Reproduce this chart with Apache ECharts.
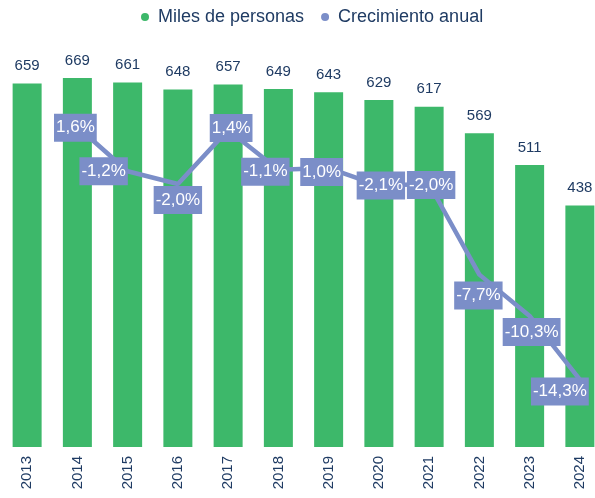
<!DOCTYPE html>
<html>
<head>
<meta charset="utf-8">
<script src="https://cdn.jsdelivr.net/npm/echarts@6/dist/echarts.min.js"></script>
<style>
html,body{margin:0;padding:0;background:#fff;}
#chart{width:595px;height:498px;}
</style>
</head>
<body>
<div id="chart"></div>
<script>
// datos
const years = ['2013','2014','2015','2016','2017','2018','2019','2020','2021','2022','2023','2024'];
const personas = [659, 669, 661, 648, 657, 649, 643, 629, 617, 569, 511, 438];
const crecimiento = [null, 1.6, -1.2, -2.0, 1.4, -1.1, -1.0, -2.1, -2.0, -7.7, -10.3, -14.3];
const crecimientoTexto = ['', '1,6%', '-1,2%', '-2,0%', '1,4%', '-1,1%', '1,0%', '-2,1%', '-2,0%', '-7,7%', '-10,3%', '-14,3%'];

// desplazamiento de las etiquetas de la linea (como en el original)
const labelShift = [[0,0],[-2,1],[-24,0],[0,16],[3,-2],[-13,2],[-7,4],[2,0],[2,1],[-1,21],[2,16],[-20,12]];

const navy = '#1F3B63';
const green = '#3DB86A';
const blue = '#7B8EC8';

var myChart = echarts.init(document.getElementById('chart'));
var option = {
    animation: false,
    textStyle: { fontFamily: 'Liberation Sans, Arial, sans-serif' },
    legend: {
        left: 136,
        top: 3,
        itemWidth: 8,
        itemHeight: 8,
        itemGap: 17,
        textStyle: { color: navy, fontSize: 18, padding: [0, 0, 0, 4] },
        data: [
            { name: 'Miles de personas', icon: 'circle' },
            { name: 'Crecimiento anual', icon: 'circle' }
        ]
    },
    grid: {
        left: 2,
        right: -10,
        top: 5.7,
        bottom: 51,
        containLabel: false,
        outerBoundsMode: 'none'
    },
    xAxis: {
        type: 'category',
        data: years,
        axisLine: { show: false },
        axisTick: { show: false },
        axisLabel: { rotate: 90, color: navy, fontSize: 15, margin: 9 }
    },
    yAxis: [
        { type: 'value', min: 0, max: 800, show: false },
        { type: 'value', min: -18.54, max: 9.21, show: false }
    ],
    series: [
        {
            name: 'Miles de personas',
            type: 'bar',
            data: personas,
            barWidth: 29,
            itemStyle: { color: green },
            label: {
                show: true,
                position: 'top',
                distance: 10,
                color: navy,
                fontSize: 15
            }
        },
        {
            name: 'Crecimiento anual',
            type: 'line',
            yAxisIndex: 1,
            data: crecimiento.map(function (v, i) {
                return { value: v, label: { offset: labelShift[i] } };
            }),
            symbol: 'circle',
            symbolSize: 1,
            showSymbol: true,
            lineStyle: { color: blue, width: 4.5 },
            itemStyle: { color: blue },
            label: {
                show: true,
                position: 'inside',
                formatter: function (p) { return crecimientoTexto[p.dataIndex]; },
                color: '#fff',
                fontSize: 17,
                lineHeight: 20,
                backgroundColor: blue,
                padding: [4, 2]
            }
        }
    ]
};
myChart.setOption(option);
</script>
</body>
</html>
